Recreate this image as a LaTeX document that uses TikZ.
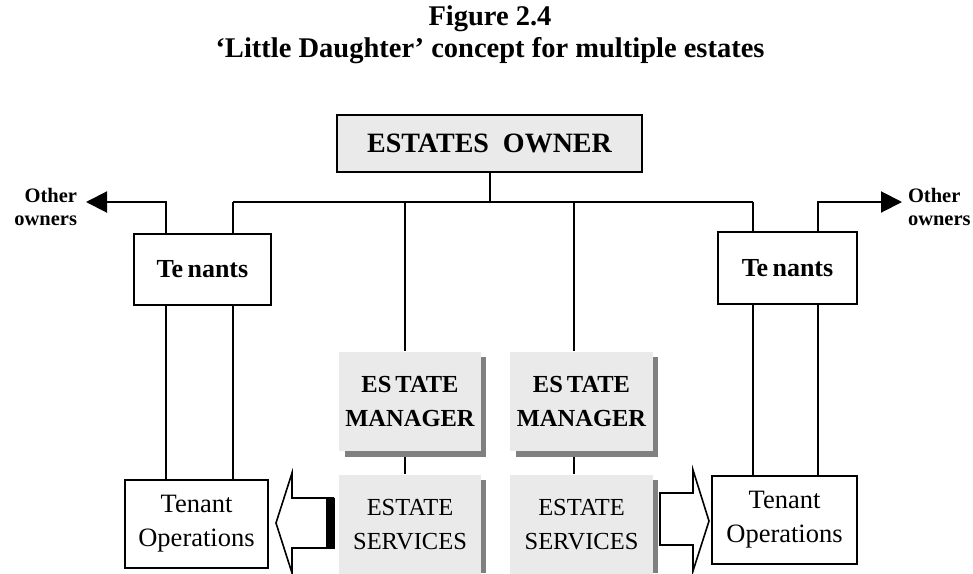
\documentclass[tikz,border=0pt]{standalone}
\usepackage{fontspec}
\setmainfont{Liberation Serif}
\usetikzlibrary{arrows.meta}
\definecolor{boxgray}{HTML}{EAEAEA}
\definecolor{shadowgray}{HTML}{808080}
\begin{document}
\begin{tikzpicture}[x=1pt,y=-1pt,
  line width=2pt,
  plainbox/.style={draw=black,fill=white,line width=1.8pt,inner sep=0pt,align=center},
  graybox/.style={fill=boxgray,inner sep=0pt,align=center},
  shadow/.style={fill=shadowgray,draw=none},
  link/.style={draw=black,line width=2pt},
  outarrow/.style={link,-{Triangle[length=21pt,width=21pt]}},
  blockarrow/.style={draw=black,fill=white,line width=1.6pt,line join=miter}]
\useasboundingbox (0,0) rectangle (973,573);

% title
\node[font=\fontsize{28.5}{30}\selectfont\bfseries] (title1) at (490,19) {Figure 2.4};
\node[font=\fontsize{28.5}{30}\selectfont\bfseries] (title2) at (490,51) {`Little Daughter' concept for multiple estates};

% owner
\node[draw=black,fill=boxgray,line width=1.8pt,inner sep=0pt,minimum width=305pt,minimum height=57pt,
      font=\fontsize{28}{30}\selectfont\bfseries] (owner) at (489.5,143.5) {ESTATES\ \ OWNER};

% tenants
\node[plainbox,minimum width=137pt,minimum height=71pt,font=\fontsize{26}{28}\selectfont\bfseries]
  (tenL) at (202.5,269.5) {Te\,nants};
\node[plainbox,minimum width=139pt,minimum height=72pt,font=\fontsize{26}{28}\selectfont\bfseries]
  (tenR) at (787.5,268) {Te\,nants};

% shadows of the estate boxes
\fill[shadow] (345,357) rectangle (486,457);
\fill[shadow] (516,357) rectangle (658,457);
\fill[shadow] (345,480) rectangle (486,573);
\fill[shadow] (516,480) rectangle (658,573);

% estate managers and services
\node[graybox,minimum width=142pt,minimum height=99pt,font=\fontsize{24.5}{34}\selectfont\bfseries]
  (mgr1) at (410,401.5) {ES\,TATE\\MANAGER};
\node[graybox,minimum width=143pt,minimum height=99pt,font=\fontsize{24.5}{34}\selectfont\bfseries]
  (mgr2) at (581.5,401.5) {ES\,TATE\\MANAGER};
\node[graybox,minimum width=142pt,minimum height=100pt,font=\fontsize{24.5}{34}\selectfont]
  (srv1) at (410,525) {ESTATE\\SERVICES};
\node[graybox,minimum width=143pt,minimum height=100pt,font=\fontsize{24.5}{34}\selectfont]
  (srv2) at (581.5,525) {ESTATE\\SERVICES};

% tenant operations
\node[plainbox,minimum width=143pt,minimum height=88pt,font=\fontsize{26.5}{34}\selectfont]
  (opsL) at (196.5,524) {Tenant\\Operations};
\node[plainbox,minimum width=145pt,minimum height=88pt,font=\fontsize{26.5}{34}\selectfont]
  (opsR) at (784.5,520) {Tenant\\Operations};

% other owners labels
\node[font=\fontsize{20.5}{23.5}\selectfont\bfseries,align=right,anchor=east,inner sep=0pt] (othL) at (78,207) {Other\\owners};
\node[font=\fontsize{20.5}{23.5}\selectfont\bfseries,align=left,anchor=west,inner sep=0pt] (othR) at (907,207) {Other\\owners};

% bus from the owner
\coordinate (busL) at (233,202);
\coordinate (busR) at (753,202);
\draw[link] (busL) -- (busR);
\draw[link] (owner.south) -- (owner.south |- busL);
\draw[link] (busL) -- (busL |- tenL.north);
\draw[link] (busR) -- (busR |- tenR.north);
\draw[link] (405,202) -- (405,0 |- mgr1.north);
\draw[link] (574,202) -- (574,0 |- mgr2.north);
\draw[link] (405,457) -- (405,0 |- srv1.north);
\draw[link] (574,457) -- (574,0 |- srv2.north);

% links to other owners
\coordinate (tipL) at (86,202);
\coordinate (tipR) at (902,202);
\draw[outarrow] (166,0 |- tenL.north) -- (166,202) -- (tipL);
\draw[outarrow] (818,0 |- tenR.north) -- (818,202) -- (tipR);

% tenants to tenant operations
\draw[link] (166,0 |- tenL.south) -- (166,0 |- opsL.north);
\draw[link] (233,0 |- tenL.south) -- (233,0 |- opsL.north);
\draw[link] (753,0 |- tenR.south) -- (753,0 |- opsR.north);
\draw[link] (818,0 |- tenR.south) -- (818,0 |- opsR.north);

% block arrows from estate services to tenant operations
\draw[blockarrow] (334,498) -- (292,498) -- (292,473) -- (276,523) -- (292,573)
  -- (292,548) -- (334,548);
\fill[black] (326,498) rectangle (335,549);
\draw[blockarrow] (660,493) -- (693,493) -- (693,470) -- (709,521) -- (693,571)
  -- (693,545) -- (660,545) -- cycle;
\draw[line width=2.6pt] (660,492) -- (660,546);
\end{tikzpicture}
\end{document}
